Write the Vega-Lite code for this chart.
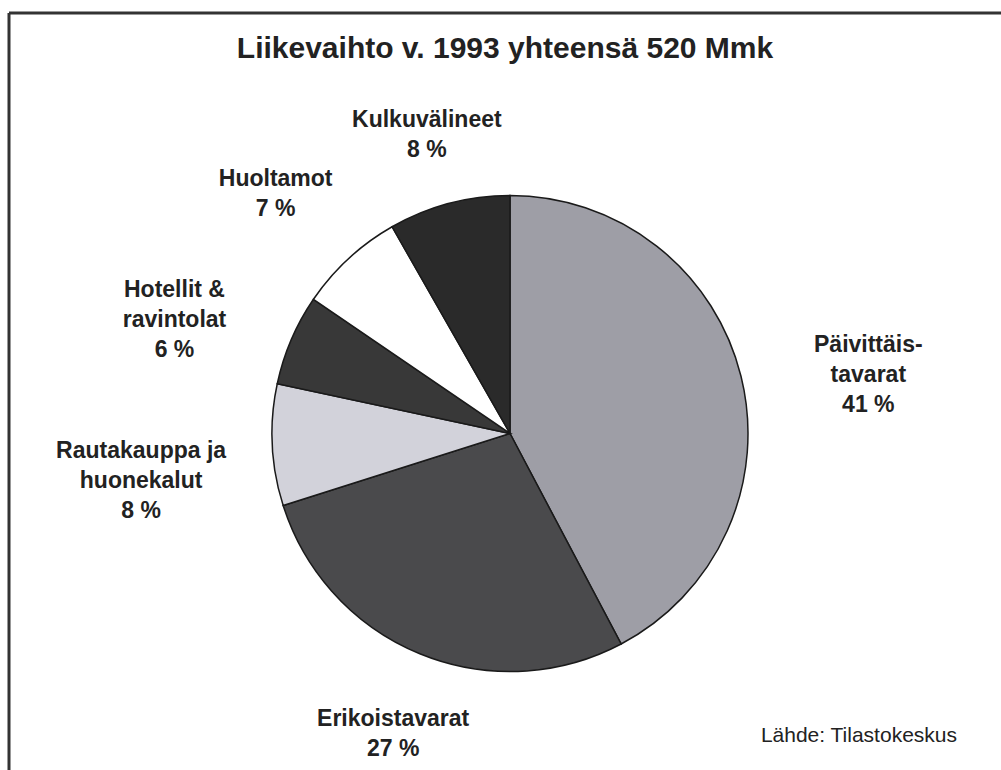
{
  "$schema": "https://vega.github.io/schema/vega-lite/v6.json",
  "width": 992,
  "height": 757,
  "autosize": {"type": "none"},
  "padding": {"left": 9, "top": 13, "right": 0, "bottom": 0},
  "background": "white",
  "config": {"view": {"stroke": null}, "font": "Liberation Sans"},
  "title": {
    "text": "Liikevaihto v. 1993 yhteensä 520 Mmk",
    "fontSize": 30,
    "fontWeight": "bold",
    "color": "#222222",
    "anchor": "middle",
    "frame": "group",
    "baseline": "alphabetic",
    "offset": -76
  },
  "data": {
    "values": [
      {"nimi": "Päivittäis-\ntavarat", "osuus": 41},
      {"nimi": "Erikoistavarat", "osuus": 27},
      {"nimi": "Rautakauppa ja\nhuonekalut", "osuus": 8},
      {"nimi": "Hotellit &\nravintolat", "osuus": 6},
      {"nimi": "Huoltamot", "osuus": 7},
      {"nimi": "Kulkuvälineet", "osuus": 8}
    ]
  },
  "transform": [
    {"window": [{"op": "row_number", "as": "jarjestys"}]},
    {"calculate": "datum.nimi + '\\n' + datum.osuus + ' %'", "as": "teksti"}
  ],
  "layer": [
    {
      "data": {"values": [{}]},
      "mark": {"type": "rule", "stroke": "#333333", "strokeWidth": 3},
      "encoding": {"y": {"value": 0}}
    },
    {
      "data": {"values": [{}]},
      "mark": {"type": "rule", "stroke": "#333333", "strokeWidth": 3},
      "encoding": {"x": {"value": 0}}
    },
    {
      "mark": {"type": "arc", "radius": 238, "stroke": "#1a1a1a", "strokeWidth": 1.5},
      "encoding": {
        "theta": {"field": "osuus", "type": "quantitative", "stack": true},
        "order": {"field": "jarjestys", "type": "quantitative"},
        "color": {
          "field": "nimi",
          "type": "nominal",
          "legend": null,
          "scale": {
            "domain": ["Päivittäis-\ntavarat", "Erikoistavarat", "Rautakauppa ja\nhuonekalut", "Hotellit &\nravintolat", "Huoltamot", "Kulkuvälineet"],
            "range": ["#9e9ea6", "#4a4a4c", "#d2d2da", "#383838", "#ffffff", "#2a2a2a"]
          }
        },
        "x": {"value": {"expr": "width / 2 + 5"}},
        "y": {"value": {"expr": "height / 2 + 42"}}
      }
    },
    {
      "mark": {
        "type": "text",
        "radius": {"expr": "310 + 60 * pow(sin(scale('theta', (datum.osuus_start + datum.osuus_end) / 2)), 2) + 11 * cos(scale('theta', (datum.osuus_start + datum.osuus_end) / 2))"},
        "fontSize": 23,
        "fontWeight": "bold",
        "color": "#222222",
        "lineBreak": "\n",
        "lineHeight": 30,
        "align": "center",
        "baseline": "middle"
      },
      "encoding": {
        "theta": {"field": "osuus", "type": "quantitative", "stack": true},
        "order": {"field": "jarjestys", "type": "quantitative"},
        "text": {"field": "teksti"},
        "x": {"value": {"expr": "width / 2 + 5"}},
        "y": {"value": {"expr": "height / 2 + 42"}}
      }
    },
    {
      "data": {"values": [{"lahde": "Lähde: Tilastokeskus"}]},
      "mark": {"type": "text", "fontSize": 21, "color": "#222222", "align": "right", "baseline": "alphabetic"},
      "encoding": {
        "text": {"field": "lahde"},
        "x": {"value": {"expr": "width - 44"}},
        "y": {"value": {"expr": "height - 28"}}
      }
    }
  ]
}
